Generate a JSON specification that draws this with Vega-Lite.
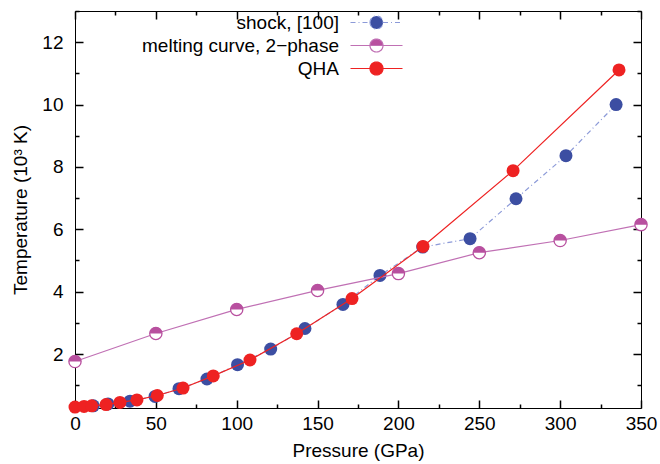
{
  "$schema": "https://vega.github.io/schema/vega-lite/v6.json",
  "width": 566,
  "height": 397,
  "autosize": {"type": "none"},
  "padding": {"left": 75, "top": 11, "right": 19, "bottom": 56},
  "background": "white",
  "config": {
    "view": {"stroke": "#000", "strokeWidth": 1},
    "font": "Liberation Sans",
    "axis": {
      "domain": false,
      "ticks": false,
      "tickSize": 0,
      "zindex": 1,
      "labelFont": "Liberation Sans",
      "labelFontSize": 19,
      "labelColor": "#000",
      "titleFont": "Liberation Sans",
      "titleFontSize": 19,
      "titleFontWeight": "normal",
      "titleColor": "#000",
      "gridColor": "#000",
      "gridOpacity": 1,
      "gridWidth": 1.5,
      "labelFlush": false,
      "labelOverlap": false
    }
  },
  "datasets": {
    "d": [
      {"series": "shock, [100]", "P": 11.3, "T": 0.34},
      {"series": "shock, [100]", "P": 20.4, "T": 0.40},
      {"series": "shock, [100]", "P": 34.0, "T": 0.49},
      {"series": "shock, [100]", "P": 49.5, "T": 0.64},
      {"series": "shock, [100]", "P": 64.3, "T": 0.89},
      {"series": "shock, [100]", "P": 81.6, "T": 1.20},
      {"series": "shock, [100]", "P": 100.5, "T": 1.66},
      {"series": "shock, [100]", "P": 121.0, "T": 2.16},
      {"series": "shock, [100]", "P": 142.2, "T": 2.82},
      {"series": "shock, [100]", "P": 165.7, "T": 3.59},
      {"series": "shock, [100]", "P": 188.6, "T": 4.52},
      {"series": "shock, [100]", "P": 215.0, "T": 5.43},
      {"series": "shock, [100]", "P": 244.3, "T": 5.70},
      {"series": "shock, [100]", "P": 272.7, "T": 6.98},
      {"series": "shock, [100]", "P": 303.6, "T": 8.36},
      {"series": "shock, [100]", "P": 334.6, "T": 10.0},
      {"series": "melting curve, 2−phase", "P": 0, "T": 1.76},
      {"series": "melting curve, 2−phase", "P": 50, "T": 2.66},
      {"series": "melting curve, 2−phase", "P": 100, "T": 3.43},
      {"series": "melting curve, 2−phase", "P": 150, "T": 4.04},
      {"series": "melting curve, 2−phase", "P": 200, "T": 4.58},
      {"series": "melting curve, 2−phase", "P": 250, "T": 5.25},
      {"series": "melting curve, 2−phase", "P": 300, "T": 5.64},
      {"series": "melting curve, 2−phase", "P": 350, "T": 6.15},
      {"series": "QHA", "P": 0, "T": 0.30},
      {"series": "QHA", "P": 5.6, "T": 0.32},
      {"series": "QHA", "P": 10.3, "T": 0.34},
      {"series": "QHA", "P": 19.2, "T": 0.38},
      {"series": "QHA", "P": 27.8, "T": 0.45},
      {"series": "QHA", "P": 38.3, "T": 0.53},
      {"series": "QHA", "P": 50.9, "T": 0.67},
      {"series": "QHA", "P": 66.8, "T": 0.91},
      {"series": "QHA", "P": 85.5, "T": 1.30},
      {"series": "QHA", "P": 108.2, "T": 1.81},
      {"series": "QHA", "P": 137.1, "T": 2.65},
      {"series": "QHA", "P": 171.3, "T": 3.78},
      {"series": "QHA", "P": 215.2, "T": 5.45},
      {"series": "QHA", "P": 270.9, "T": 7.88},
      {"series": "QHA", "P": 336.4, "T": 11.11}
    ]
  },
  "data": {"name": "d"},
  "layer": [
    {
      "encoding": {
        "x": {
          "field": "P", "type": "quantitative",
          "scale": {"domain": [0, 350], "nice": false, "zero": false},
          "axis": {
            "orient": "bottom",
            "values": [0, 50, 100, 150, 200, 250, 300, 350],
            "grid": true,
            "gridDash": [8, 381, 8, 1000],
            "labelPadding": 6,
            "title": "Pressure (GPa)",
            "titlePadding": 8
          }
        },
        "y": {
          "field": "T", "type": "quantitative",
          "scale": {"domain": [0.27, 13], "nice": false, "zero": false},
          "axis": {
            "orient": "left",
            "values": [2, 4, 6, 8, 10, 12],
            "grid": true,
            "gridDash": [8, 550, 8, 1000],
            "labelPadding": 12,
            "title": "Temperature (10³ K)",
            "titlePadding": 11
          }
        }
      },
      "layer": [
        {
          "transform": [{"filter": "datum.series === 'shock, [100]'"}],
          "mark": {"type": "line", "color": "#8c9ad8", "strokeWidth": 1.2, "strokeDash": [5, 3, 1, 3]},
          "encoding": {}
        },
        {
          "transform": [{"filter": "datum.series === 'shock, [100]'"}],
          "mark": {"type": "point", "shape": "circle", "filled": true, "fill": "#3c4ea2", "size": 169, "opacity": 1, "strokeWidth": 0},
          "encoding": {}
        },
        {
          "transform": [{"filter": "datum.series !== 'shock, [100]' && datum.series !== 'QHA'"}],
          "mark": {"type": "line", "color": "#c070b4", "strokeWidth": 1.2},
          "encoding": {}
        },
        {
          "transform": [{"filter": "datum.series !== 'shock, [100]' && datum.series !== 'QHA'"}],
          "mark": {"type": "point", "shape": "circle", "filled": true, "fill": "white", "stroke": "#b8509f", "strokeWidth": 1.3, "size": 150, "opacity": 1},
          "encoding": {}
        },
        {
          "transform": [{"filter": "datum.series !== 'shock, [100]' && datum.series !== 'QHA'"}],
          "mark": {"type": "point", "shape": "M-1,0A1,1 0 0,1 1,0Z", "filled": true, "fill": "#b8509f", "strokeWidth": 0, "size": 150, "opacity": 1},
          "encoding": {}
        },
        {
          "transform": [{"filter": "datum.series === 'QHA'"}],
          "mark": {"type": "line", "color": "#ee2222", "strokeWidth": 1.2},
          "encoding": {}
        },
        {
          "transform": [{"filter": "datum.series === 'QHA'"}],
          "mark": {"type": "point", "shape": "circle", "filled": true, "fill": "#ee2222", "strokeWidth": 0, "size": 169, "opacity": 1},
          "encoding": {}
        },
        {
          "transform": [{"filter": "false"}],
          "mark": {"type": "point", "filled": true, "opacity": 1, "strokeWidth": 1.2},
          "encoding": {
            "shape": {
              "field": "series", "type": "nominal",
              "scale": {"domain": ["shock, [100]", "melting curve, 2−phase", "QHA"], "range": [
                "M-4,0H-1M1,0H4M-1,0A1,1 0 1,0 1,0A1,1 0 1,0 -1,0Z",
                "M-4,0H-1M1,0H4M-1,0A1,1 0 0,1 1,0ZM-1,0A1,1 0 0,0 1,0A1,1 0 0,1 -1,0",
                "M-4,0H-1M1,0H4M-1,0A1,1 0 1,0 1,0A1,1 0 1,0 -1,0Z"
              ]},
              "legend": {
                "orient": "none",
                "legendX": 292,
                "legendY": 2,
                "title": null,
                "padding": 0,
                "symbolSize": 169,
                "symbolStrokeWidth": 1.2,
                "labelAlign": "right",
                "labelOffset": -47,
                "labelFont": "Liberation Sans",
                "labelFontSize": 19,
                "labelColor": "#000",
                "labelLimit": 400,
                "rowPadding": 3
              }
            },
            "fill": {
              "field": "series", "type": "nominal",
              "scale": {"domain": ["shock, [100]", "melting curve, 2−phase", "QHA"], "range": ["#3c4ea2", "#b8509f", "#ee2222"]}
            },
            "stroke": {
              "field": "series", "type": "nominal",
              "scale": {"domain": ["shock, [100]", "melting curve, 2−phase", "QHA"], "range": ["#8c9ad8", "#c070b4", "#ee2222"]}
            },
            "strokeDash": {
              "field": "series", "type": "nominal",
              "scale": {"domain": ["shock, [100]", "melting curve, 2−phase", "QHA"], "range": [[5, 3, 1, 3], [1, 0], [1, 0]]}
            }
          }
        }
      ]
    },
    {
      "mark": {"type": "point", "opacity": 0},
      "encoding": {
        "x": {
          "field": "P", "type": "quantitative",
          "scale": {"domain": [0, 350], "nice": false, "zero": false},
          "axis": {"orient": "top", "values": [25, 75, 125, 175, 225, 275, 325], "labels": false, "title": null, "grid": true, "gridDash": [4, 389, 4, 1000]}
        },
        "y": {
          "field": "T", "type": "quantitative",
          "scale": {"domain": [0.27, 13], "nice": false, "zero": false},
          "axis": {"orient": "right", "values": [1, 3, 5, 7, 9, 11, 13], "labels": false, "title": null, "grid": true, "gridDash": [4, 558, 4, 1000]}
        }
      }
    }
  ],
  "resolve": {"axis": {"x": "independent", "y": "independent"}}
}
